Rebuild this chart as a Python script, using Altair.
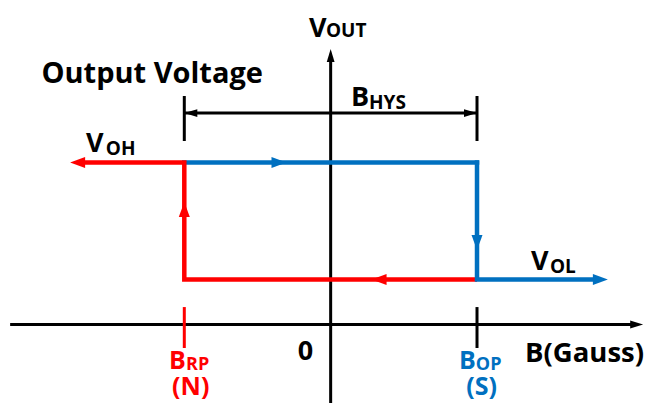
import altair as alt
import pandas as pd

# ---- schematic values (B in Gauss, V in volts, arbitrary units) ----
B_RP, B_OP = -50, 50          # release / operate points
V_OL, V_OH = 0.5, 1.8         # output low / high levels
B_LEFT_END, B_RIGHT_END = -85.6, 91.3   # ends of the V_OH / V_OL arrows
AXIS_X_RANGE = [-109.5, 103.8]
AXIS_Y_RANGE = [-0.875, 2.964]
Y_HYS = 2.35
HYS_TICK = [2.539, 2.039]
AXIS_TICK = [0.194, -0.261]

# mid-line direction arrows
MID_TOP_B = -18.5
MID_BOTTOM_B = 17.4
MID_UP_V = 1.25
MID_DOWN_V = 0.939

# labels
big_text = ["V", "B", "V", "V", "0"]
big_x = [-7.4, 6.95, -83.6, 68.45, -8.6]
big_y = [3.2, 2.428, 1.917, 0.606, -0.394]
big_align = ["left", "left", "left", "left", "center"]

title_text = ["Output Voltage", "B(Gauss)"]
title_x = [-98.8, 66.4]
title_y = [2.683, -0.417]

sub_text = ["OUT", "HYS", "OH", "OL"]
sub_x = [-1.59, 13.1, -76.8, 74.9]
sub_y = [3.194, 2.40, 1.883, 0.578]

pole_sub_text = ["RP", "OP"]
pole_sub_x = [-49.4, 49.6]
pole_sub_y = [-0.506, -0.506]

pole_text = ["B", "B", "(N)", "(S)"]
pole_x = [-55.2, 43.85, -47.8, 51.6]
pole_y = [-0.494, -0.494, -0.783, -0.783]
pole_align = ["left", "left", "center", "center"]

RED, BLUE = "#FF0000", "#0070C0"
pole_col = [RED, BLUE, RED, BLUE]

X = alt.X("x:Q", scale=alt.Scale(domain=[-110.23, 107.05], nice=False, zero=False), axis=None)
Y = alt.Y("y:Q", scale=alt.Scale(domain=[-0.872, 3.517], nice=False, zero=False), axis=None)

def path(xs, ys, color, width, cap="butt"):
    df = pd.DataFrame({"x": xs, "y": ys, "i": list(range(len(xs)))})
    return alt.Chart(df).mark_line(color=color, strokeWidth=width, strokeCap=cap,
                                   strokeJoin="miter").encode(x=X, y=Y, order="i:Q")

HEAD_C = "M 2 0 L -1 -1.1 L -1 1.1 Z"
HEAD_K = "M 2 0 L -1 -0.9 L -1 0.9 Z"
HEAD_T = "M 0 0 L -3 -0.9 L -3 0.9 Z"

def heads(xs, ys, angles, color, shape, size):
    df = pd.DataFrame({"x": xs, "y": ys, "a": angles})
    return alt.Chart(df).mark_point(shape=shape, filled=True, size=size, color=color,
                                    opacity=1, strokeWidth=0).encode(
        x=X, y=Y, angle=alt.Angle("a:Q", scale=None))

def texts(t, xs, ys, cols, size, align):
    if isinstance(cols, str):
        cols = [cols] * len(t)
    if isinstance(align, str):
        align = [align] * len(t)
    layers = []
    for al in ("left", "center"):
        idx = [i for i, a in enumerate(align) if a == al]
        if not idx:
            continue
        df = pd.DataFrame({"x": [xs[i] for i in idx], "y": [ys[i] for i in idx],
                           "t": [t[i] for i in idx], "c": [cols[i] for i in idx]})
        layers.append(alt.Chart(df).mark_text(font="Open Sans", fontWeight="bold", fontSize=size,
                                              align=al, baseline="alphabetic").encode(
            x=X, y=Y, text="t:N", color=alt.Color("c:N", scale=None)))
    return layers

layers = [
    # axes
    path(AXIS_X_RANGE, [0, 0], "black", 3),
    path([0, 0], AXIS_Y_RANGE, "black", 3),
    heads([AXIS_X_RANGE[1]], [0], [0], "black", HEAD_K, 75),
    heads([0], [AXIS_Y_RANGE[1]], [270], "black", HEAD_K, 75),
    # axis ticks
    path([B_RP, B_RP], AXIS_TICK, RED, 3),
    path([B_OP, B_OP], AXIS_TICK, "black", 3),
    # hysteresis dimension
    path([B_RP, B_RP], HYS_TICK, "black", 3),
    path([B_OP, B_OP], HYS_TICK, "black", 3),
    path([B_RP, B_OP], [Y_HYS, Y_HYS], "black", 3),
    heads([B_RP, B_OP], [Y_HYS, Y_HYS], [180, 0], "black", HEAD_T, 75),
    # hysteresis loop
    path([B_RP, B_OP], [V_OH, V_OH], BLUE, 4.5, "square"),
    path([B_OP, B_RP, B_RP, B_LEFT_END], [V_OL, V_OL, V_OH, V_OH], RED, 4.5),
    path([B_OP, B_OP, B_RIGHT_END], [V_OH, V_OL, V_OL], BLUE, 4.5, "square"),
    heads([B_LEFT_END, MID_BOTTOM_B, B_RP], [V_OH, V_OL, MID_UP_V], [180, 180, 270], RED, HEAD_C, 100),
    heads([B_RIGHT_END, MID_TOP_B, B_OP], [V_OL, V_OH, MID_DOWN_V], [0, 0, 90], BLUE, HEAD_C, 100),
]
layers += texts(big_text, big_x, big_y, "black", 27, big_align)
layers += texts(["Output Voltage"], [title_x[0]], [title_y[0]], "black", 29, "left")
layers += texts(["B(Gauss)"], [title_x[1]], [title_y[1]], "black", 27.5, "left")
layers += texts(sub_text, sub_x, sub_y, "black", 19, "left")
layers += texts(pole_sub_text, pole_sub_x, pole_sub_y, [RED, BLUE], 18, "left")
layers += texts(pole_text, pole_x, pole_y, pole_col, 25, pole_align)

chart = alt.layer(*layers).properties(
    width=636, height=395,
    autosize=alt.AutoSizeParams(type="none"),
    padding={"left": 0, "top": 0, "right": 0, "bottom": 0},
    background="white",
).configure_view(stroke=None)

chart.save("out.html", embed_options={"renderer": "svg", "actions": False})
